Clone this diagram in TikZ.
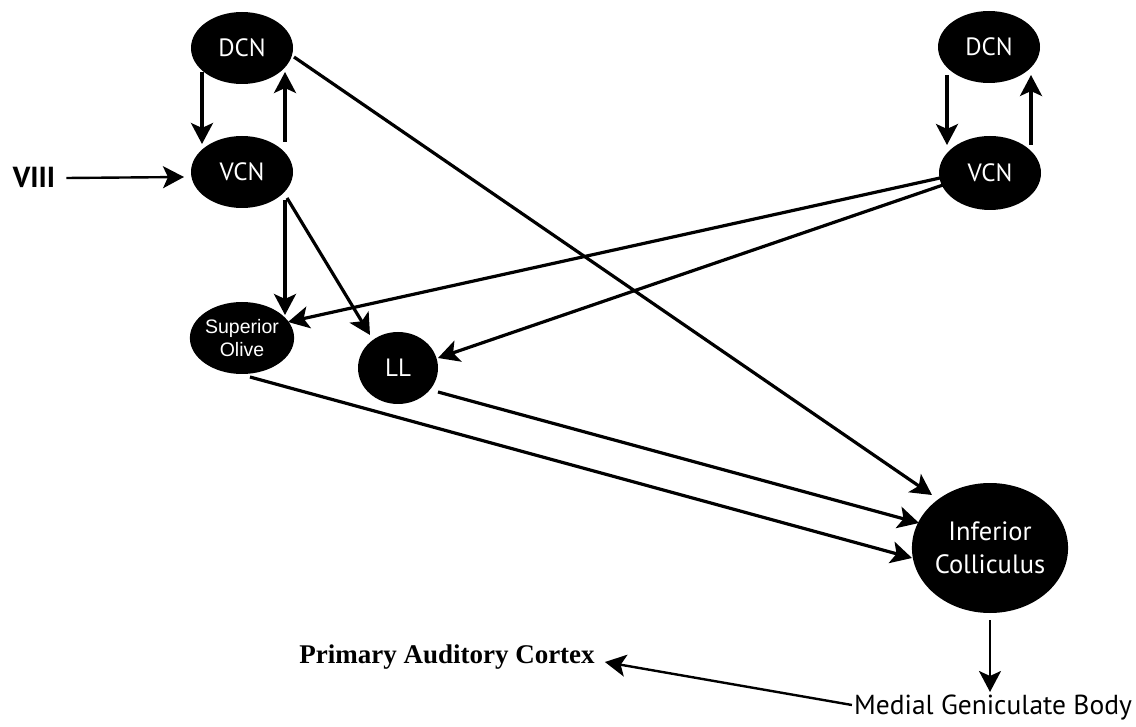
\documentclass[tikz,border=0pt]{standalone}
\usepackage{fontspec}
\setmainfont{Liberation Serif}
\newfontfamily\myr{PT Sans}
\newfontfamily\ars{Liberation Sans}
\usetikzlibrary{shapes.geometric,arrows.meta,calc}
\tikzset{
  nuc/.style={ellipse, fill=black, draw=none, inner sep=0pt, text=white, align=center},
  arr/.style={line width=3.2pt, -{Stealth[length=21pt,width=22pt,inset=5pt]}},
  tarr/.style={line width=2.4pt, -{Stealth[length=21pt,width=22pt,inset=5pt]}},
}
\begin{document}
\begin{tikzpicture}[x=1pt,y=-1pt]
\useasboundingbox (0,0) rectangle (1136,727);
\node[nuc, minimum width=102pt, minimum height=72pt, font=\myr\fontsize{25}{26}\selectfont] (dcnL) at (242,48) {DCN};
\node[nuc, minimum width=102pt, minimum height=72pt, font=\myr\fontsize{25}{26}\selectfont] (vcnL) at (242,172) {VCN};
\node[nuc, minimum width=102pt, minimum height=72pt, font=\myr\fontsize{25}{26}\selectfont] (dcnR) at (989,47) {DCN};
\node[nuc, minimum width=102pt, minimum height=74pt, font=\myr\fontsize{25}{26}\selectfont] (vcnR) at (990,173) {VCN};
\node[nuc, minimum width=102pt, minimum height=72pt, font=\ars\fontsize{19.5}{23}\selectfont] (so) at (242,338) {Superior\\Olive};
\node[nuc, minimum width=80pt, minimum height=72pt, font=\myr\fontsize{25}{26}\selectfont] (ll) at (398,368) {LL};
\node[nuc, minimum width=156pt, minimum height=130pt, font=\myr\fontsize{26.5}{33}\selectfont] (ic) at (990,548) {Inferior\\Colliculus};
\node[font=\myr\fontsize{27.5}{30}\selectfont, inner sep=0pt] (mgb) at (993,708) {Medial Geniculate Body};
\node[font=\bfseries\fontsize{27}{30}\selectfont, inner sep=0pt] (pac) at (447,657) {Primary Auditory Cortex};
\node[font=\myr\bfseries\fontsize{29}{30}\selectfont, inner sep=0pt] (viii) at (34,177) {VIII};

\draw[arr] ($(dcnL.center)+(-40,24)$) -- ($(vcnL.center)+(-40,-28)$);
\draw[arr] ($(vcnL.center)+(43,-30)$) -- ($(dcnL.center)+(43,24)$);
\draw[arr] ($(dcnR.center)+(-42,28)$) -- ($(vcnR.center)+(-43,-28)$);
\draw[arr] ($(vcnR.center)+(41,-28)$) -- ($(dcnR.center)+(42,28)$);
\draw[tarr] ($(viii.east)+(11,1)$) -- ($(vcnL.center)+(-58,5)$);
\draw[arr] ($(dcnL.center)+(52,9)$) -- ($(ic.center)+(-58,-53)$);
\draw[arr] ($(vcnL.center)+(43,28)$) -- ($(so.center)+(43,-23)$);
\draw[arr] ($(vcnL.center)+(45,26)$) -- ($(ll.center)+(-28,-33)$);
\draw[arr] ($(vcnR.center)+(-50,5)$) -- ($(so.center)+(46,-16)$);
\draw[arr] ($(vcnR.center)+(-47,12)$) -- ($(ll.center)+(40,-10)$);
\draw[arr] ($(so.center)+(8,39)$) -- ($(ic.center)+(-78,10)$);
\draw[arr] ($(ll.center)+(40,24)$) -- ($(ic.center)+(-71,-25)$);
\draw[tarr] ($(ic.center)+(0,72)$) -- ($(mgb.center)+(-3,-16)$);
\draw[tarr] ($(mgb.west)+(-2,-3)$) -- ($(pac.east)+(10,5)$);
\end{tikzpicture}
\end{document}
